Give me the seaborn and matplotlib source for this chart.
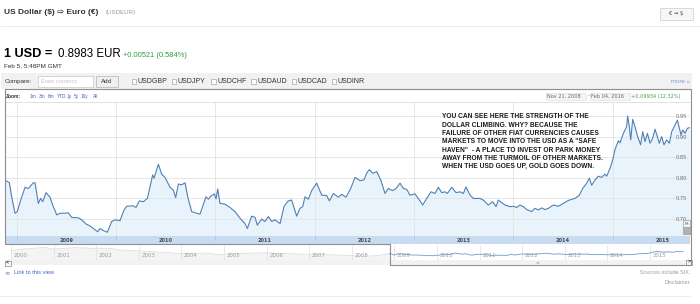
import matplotlib
matplotlib.use("Agg")
import matplotlib.pyplot as plt
import seaborn as sns
import numpy as np
import pandas as pd
from matplotlib.patches import Rectangle
from matplotlib.lines import Line2D
from matplotlib import font_manager

# ---------------- data ----------------
years_2009_2011 = [2008.879, 2008.926, 2008.949, 2008.983, 2009.006, 2009.040, 2009.084, 2009.117, 2009.167, 2009.184,
                   2009.218, 2009.241, 2009.262, 2009.295, 2009.335, 2009.362, 2009.403, 2009.436, 2009.486, 2009.520,
                   2009.554, 2009.621, 2009.654, 2009.698, 2009.738, 2009.772, 2009.815, 2009.839, 2009.872, 2009.913,
                   2009.956, 2009.990, 2010.040, 2010.081, 2010.107, 2010.175, 2010.201, 2010.235, 2010.275, 2010.316,
                   2010.369, 2010.383, 2010.426, 2010.460, 2010.493, 2010.544, 2010.577, 2010.601, 2010.628, 2010.661,
                   2010.695, 2010.722, 2010.762, 2010.812, 2010.846, 2010.873, 2010.906, 2010.930, 2010.957, 2010.990,
                   2011.007, 2011.024, 2011.047, 2011.098, 2011.148]
rates_2009_2011 = [0.795, 0.788, 0.754, 0.714, 0.718, 0.746, 0.777, 0.774, 0.788, 0.788,
                   0.738, 0.750, 0.742, 0.764, 0.753, 0.734, 0.710, 0.714, 0.714, 0.715,
                   0.704, 0.703, 0.698, 0.688, 0.683, 0.677, 0.669, 0.677, 0.672, 0.668,
                   0.694, 0.698, 0.696, 0.722, 0.731, 0.732, 0.728, 0.744, 0.742, 0.750,
                   0.807, 0.799, 0.833, 0.809, 0.801, 0.777, 0.770, 0.752, 0.785, 0.783,
                   0.788, 0.754, 0.718, 0.714, 0.712, 0.731, 0.754, 0.748, 0.756, 0.761,
                   0.749, 0.773, 0.738, 0.736, 0.728]
years_2011_2013 = [2011.198, 2011.249, 2011.299, 2011.323, 2011.366, 2011.400, 2011.423, 2011.467, 2011.500, 2011.534,
                   2011.568, 2011.601, 2011.652, 2011.692, 2011.735, 2011.769, 2011.819, 2011.853, 2011.880, 2011.903,
                   2011.937, 2011.970, 2012.021, 2012.071, 2012.121, 2012.148, 2012.189, 2012.239, 2012.273, 2012.316,
                   2012.363, 2012.407, 2012.457, 2012.497, 2012.524, 2012.551, 2012.585, 2012.625, 2012.665, 2012.709,
                   2012.742, 2012.786, 2012.820, 2012.860, 2012.894, 2012.927, 2012.961, 2013.011, 2013.055, 2013.088,
                   2013.129, 2013.172, 2013.212, 2013.246, 2013.280, 2013.313, 2013.337, 2013.380, 2013.424]
rates_2011_2013 = [0.718, 0.702, 0.689, 0.677, 0.707, 0.704, 0.685, 0.700, 0.694, 0.706,
                   0.694, 0.698, 0.689, 0.731, 0.744, 0.746, 0.707, 0.726, 0.730, 0.754,
                   0.748, 0.769, 0.787, 0.758, 0.757, 0.744, 0.762, 0.753, 0.760, 0.753,
                   0.774, 0.801, 0.793, 0.795, 0.811, 0.820, 0.811, 0.815, 0.795, 0.762,
                   0.774, 0.769, 0.774, 0.787, 0.774, 0.772, 0.758, 0.761, 0.746, 0.734,
                   0.750, 0.766, 0.762, 0.777, 0.764, 0.766, 0.762, 0.777, 0.764]
years_2013_2015 = [2013.464, 2013.498, 2013.524, 2013.565, 2013.598, 2013.665, 2013.699, 2013.749, 2013.793, 2013.827,
                   2013.850, 2013.884, 2013.917, 2013.968, 2014.001, 2014.035, 2014.068, 2014.102, 2014.135, 2014.186,
                   2014.219, 2014.253, 2014.286, 2014.320, 2014.354, 2014.404, 2014.454, 2014.505, 2014.545, 2014.589,
                   2014.622, 2014.666, 2014.699, 2014.740, 2014.766, 2014.790, 2014.824, 2014.857, 2014.891, 2014.924,
                   2014.941, 2014.975, 2015.001, 2015.025, 2015.059, 2015.075, 2015.109, 2015.142, 2015.152, 2015.169,
                   2015.183, 2015.203, 2015.226, 2015.253, 2015.283, 2015.304, 2015.327, 2015.351, 2015.378, 2015.404,
                   2015.428, 2015.451, 2015.471, 2015.495, 2015.518, 2015.545, 2015.572, 2015.596, 2015.629, 2015.653,
                   2015.673, 2015.690, 2015.706, 2015.730, 2015.753, 2015.780]
rates_2013_2015 = [0.766, 0.762, 0.778, 0.758, 0.750, 0.750, 0.746, 0.734, 0.742, 0.730,
                   0.746, 0.740, 0.734, 0.730, 0.731, 0.728, 0.734, 0.730, 0.723, 0.718,
                   0.726, 0.722, 0.727, 0.723, 0.726, 0.734, 0.731, 0.738, 0.744, 0.748,
                   0.750, 0.758, 0.774, 0.787, 0.799, 0.782, 0.795, 0.804, 0.801, 0.809,
                   0.804, 0.823, 0.843, 0.869, 0.890, 0.885, 0.908, 0.924, 0.950, 0.924,
                   0.892, 0.942, 0.924, 0.900, 0.880, 0.912, 0.888, 0.908, 0.884, 0.896,
                   0.918, 0.900, 0.884, 0.900, 0.880, 0.892, 0.884, 0.912, 0.928, 0.940,
                   0.920, 0.904, 0.916, 0.908, 0.920, 0.922]

# navigator history (faint, before the selected range)
hist_years = [2000.0, 2000.4, 2000.8, 2001.0, 2001.5, 2001.9, 2002.3, 2002.6, 2002.9, 2003.3, 2003.6, 2003.9,
              2004.2, 2004.6, 2004.9, 2005.4, 2005.9, 2006.3, 2006.9, 2007.4, 2007.9, 2008.3, 2008.6, 2008.879]
hist_rates = [0.99, 1.10, 1.17, 1.07, 1.16, 1.12, 1.12, 1.01, 0.97, 0.92, 0.87, 0.81,
              0.82, 0.82, 0.74, 0.80, 0.85, 0.81, 0.76, 0.74, 0.68, 0.64, 0.68, 0.795]

ytick_values = [0.70, 0.75, 0.80, 0.85, 0.90, 0.95]
ytick_labels = ["0.70", "0.75", "0.80", "0.85", "0.90", "0.95"]
chart_years = [2009, 2010, 2011, 2012, 2013, 2014, 2015]
nav_years = list(range(2000, 2016))
compare_codes = ["USDGBP", "USDJPY", "USDCHF", "USDAUD", "USDCAD", "USDINR"]
zoom_links = ["1m", "3m", "6m", "YTD", "1y", "5y", "10y", "All"]
note_lines = ["YOU CAN SEE HERE THE STRENGTH OF THE",
              "DOLLAR CLIMBING. WHY? BECAUSE THE",
              "FAILURE OF OTHER FIAT CURRENCIES CAUSES",
              "MARKETS TO MOVE INTO THE USD AS A \"SAFE",
              "HAVEN\"  - A PLACE TO INVEST OR PARK MONEY",
              "AWAY FROM THE TURMOIL OF OTHER MARKETS.",
              "WHEN THE USD GOES UP, GOLD GOES DOWN."]

df = pd.DataFrame({"year": years_2009_2011 + years_2011_2013 + years_2013_2015,
                   "rate": rates_2009_2011 + rates_2011_2013 + rates_2013_2015})
hist = pd.DataFrame({"year": hist_years, "rate": hist_rates})

# ---------------- style ----------------
sns.set_style("white")
plt.rcParams['font.family'] = ['Liberation Sans', 'DejaVu Sans']

W, H = 700, 304
fig = plt.figure(figsize=(W / 100, H / 100), dpi=100)
fig.patch.set_facecolor("white")

def fx(x):
    return x / W

def fy(y):
    return 1 - y / H

def ftext(x, y, s, **kw):
    kw.setdefault("va", "center")
    return fig.text(fx(x), fy(y), s, **kw)

def frect(x0, y0, x1, y1, **kw):
    r = Rectangle((fx(x0), fy(y1)), fx(x1) - fx(x0), fy(y0) - fy(y1),
                  transform=fig.transFigure, **kw)
    fig.add_artist(r)
    return r

def fline(xs, ys, **kw):
    fig.add_artist(Line2D([fx(v) for v in xs], [fy(v) for v in ys],
                          transform=fig.transFigure, **kw))

LINE = "#4f80b5"
FILL = "#e8f3fc"
GRID = "#e3e3e3"
FRAME = "#8f8f8f"
LINK = "#3f63c6"

# ---------------- header ----------------
ftext(4, 12.5, "US Dollar ($) \u21e8 Euro (\u20ac)", fontsize=6, fontweight="bold", color="#333333")
ftext(106, 12.5, "(USDEUR)", fontsize=4.4, color="#9a9a9a")
frect(660, 7.5, 693, 20, facecolor="#f6f6f6", edgecolor="#d4d4d4", lw=0.6)
ftext(676.5, 14, "\u20ac \u21d2 $", fontsize=3.8, ha="center", color="#444444", family=["DejaVu Sans"])
fline([0, 700], [26, 26], color="#e8e8e8", lw=0.6)

ftext(3.5, 57, "1 USD =", fontsize=9.2, fontweight="bold", color="#000000", va="baseline")
ftext(58, 57, "0.8983 EUR", fontsize=8.3, color="#000000", va="baseline")
ftext(123, 57, "+0.00521 (0.584%)", fontsize=5.4, color="#2e9c3f", va="baseline")
ftext(4, 65.5, "Feb 5, 5:48PM GMT", fontsize=4.6, color="#333333")

# compare bar
frect(1, 72.5, 692, 89, facecolor="#f1f1f1", edgecolor="none")
ftext(5, 81.5, "Compare:", fontsize=4.5, color="#333333")
frect(38, 76, 93, 87, facecolor="white", edgecolor="#c8c8c8", lw=0.5)
ftext(41, 81.5, "Enter currency", fontsize=4.0, color="#c4c4c4")
frect(96, 76, 118, 87, facecolor="#efefef", edgecolor="#b4b4b4", lw=0.5)
ftext(107, 81.5, "Add", fontsize=4.5, ha="center", color="#333333")
box_x = [131.5, 171.5, 211, 251, 291.5, 331.5]
for bx, code in zip(box_x, compare_codes):
    frect(bx, 79.3, bx + 4.5, 83.8, facecolor="#fafafa", edgecolor="#a8a8a8", lw=0.5)
    ftext(bx + 6, 81.5, code, fontsize=5.0, color="#333333")
ftext(690, 81.5, "more \u00bb", fontsize=4.4, color="#7c9ad9", ha="right")

# zoom row
ftext(6, 96.3, "Zoom:", fontsize=3.5, fontweight="bold", color="#333333")
zoom_x = [30, 39, 48, 57, 67, 74, 81, 93]
for zx, lab in zip(zoom_x, zoom_links):
    ftext(zx, 96.3, lab, fontsize=3.4, color=LINK)
range_font = dict(fontsize=3.6, family=["DejaVu Sans"])
frect(545.5, 92.5, 586, 99.8, facecolor="#f5f5f5", edgecolor="#e2e2e2", lw=0.5)
ftext(547, 96.2, "Nov 21, 2008", color="#666666", **range_font)
ftext(587.5, 96.2, "-", color="#666666", **range_font)
frect(590, 92.5, 629.5, 99.8, facecolor="#f5f5f5", edgecolor="#e2e2e2", lw=0.5)
ftext(591, 96.2, "Feb 04, 2016", color="#666666", **range_font)
ftext(631, 96.2, "+0.09934 (12.32%)", color="#3aa24a", **range_font)

# ---------------- main chart ----------------
x_left, x_right = 4.7, 690
ax = fig.add_axes([fx(x_left), fy(236), fx(x_right) - fx(x_left), (236 - 102) / H])
ax.set_xlim(2008.879, 2015.780)
ax.set_ylim(0.6588, 0.984)
ax.fill_between(df["year"], df["rate"], 0.6588, color=FILL, lw=0, zorder=1)
sns.lineplot(data=df, x="year", y="rate", ax=ax, color=LINE, lw=0.8, zorder=3)
ax.set_xticks(chart_years)
ax.set_yticks(ytick_values)
ax.set_yticklabels(ytick_labels)
ax.grid(True, color=GRID, lw=0.6)
ax.set_axisbelow("line")
ax.set_xlabel("")
ax.set_ylabel("")
ax.tick_params(axis="x", length=0, labelbottom=False)
ax.yaxis.tick_right()
ax.tick_params(axis="y", length=0, pad=-2.0, labelsize=3.6, labelcolor="#6a6a6a")
for lbl in ax.get_yticklabels():
    lbl.set_ha("right")
    lbl.set_family("DejaVu Sans")
for side in ["left", "right", "bottom"]:
    ax.spines[side].set_visible(False)
ax.spines["top"].set_color("#dcdcdc")
ax.spines["top"].set_linewidth(0.6)

# annotation note
names = {f.name for f in font_manager.fontManager.ttflist}
if "Liberation Sans Narrow" in names:
    note_font = dict(family=["Liberation Sans Narrow", "DejaVu Sans"], fontsize=5.9)
else:
    note_font = dict(family=["Liberation Sans", "DejaVu Sans"], fontsize=4.8)
for i, line in enumerate(note_lines):
    ftext(442, 116.8 + i * 8.33, line, fontweight="bold", color="#1a1a1a", **note_font)

# small "M" handle at right
frect(682.5, 226.5, 689.5, 234, facecolor="#b2b2b2", edgecolor="#9a9a9a", lw=0.5)
frect(682.5, 220.5, 689.5, 227, facecolor="#f4f4f4", edgecolor="#9a9a9a", lw=0.5)
ftext(686, 223.8, "M", fontsize=3.0, ha="center", color="#555555", family=["DejaVu Sans"])

# year band
axb = fig.add_axes([fx(x_left), fy(244), fx(x_right) - fx(x_left), 8 / H])
axb.set_xlim(ax.get_xlim())
axb.set_ylim(0, 1)
axb.set_facecolor("#c7dbf1")
axb.set_xticks([])
axb.set_yticks([])
for s in axb.spines.values():
    s.set_visible(False)
axb.vlines(chart_years, 0.55, 1.0, color="#a8c2df", lw=0.6)
for yr in chart_years:
    axb.text(yr + 0.5, 0.45, str(yr), ha="center", va="center", fontsize=3.6,
             fontweight="bold", color="#4a4a4a", family="DejaVu Sans")

# ---------------- navigator ----------------
axn = fig.add_axes([fx(10), fy(260), fx(692) - fx(10), (260 - 245) / H])
axn.set_xlim(1999.977, 2015.986)
axn.set_ylim(0.41, 1.32)
axn.set_xticks([])
axn.set_yticks([])
for s in axn.spines.values():
    s.set_visible(False)
axn.vlines(nav_years, 0.41, 1.32, color="#e4e4e4", lw=0.6)
axn.fill_between(hist["year"], hist["rate"], 0.41, color="#f4f4f4", lw=0)
sns.lineplot(data=hist, x="year", y="rate", ax=axn, color="#dedede", lw=0.6)
sns.lineplot(data=df, x="year", y="rate", ax=axn, color="#6f9bc9", lw=0.6)
axn.set_xlabel("")
axn.set_ylabel("")
for yr in nav_years:
    axn.text(yr + 0.06, 0.30, str(yr), transform=axn.get_xaxis_transform(), ha="left", va="center",
             fontsize=3.9, color="#9a9a9a", family="DejaVu Sans", clip_on=True)

# scroll row
frect(4.5, 260, 692, 265, facecolor="#f2f2f2", edgecolor="none")
frect(4.5, 260.5, 10.5, 266, facecolor="#f7f7f7", edgecolor="#8a8a8a", lw=0.5)
ftext(7.5, 263.2, "<", fontsize=3.6, ha="center", color="#333333", fontweight="bold")
frect(686, 259.5, 692, 265, facecolor="#f7f7f7", edgecolor="#8a8a8a", lw=0.5)
ftext(689, 262.2, ">", fontsize=3.6, ha="center", color="#333333", fontweight="bold")
ftext(537, 262.5, "\u2261", fontsize=3.2, ha="center", color="#b0b0b0", family=["DejaVu Sans"])

# frame
fline([4.5, 691], [89, 89], color=FRAME, lw=0.8)
fline([4.5, 4.5], [89, 244], color=FRAME, lw=0.8)
fline([4.5, 390], [244, 244], color=FRAME, lw=0.8)
fline([390, 390], [244, 265], color=FRAME, lw=0.8)
fline([390, 691], [265, 265], color=FRAME, lw=0.8)
fline([691, 691], [89, 265], color=FRAME, lw=0.8)

# footer
ftext(4, 272.5, "\u221e", fontsize=4.6, color="#6a7fb8", family=["DejaVu Sans"])
ftext(13.5, 272.5, "Link to this view", fontsize=4.1, color=LINK)
ftext(690, 272.5, "Sources include SIX.", fontsize=3.9, color="#9a9a9a", ha="right")
ftext(690, 282.5, "Disclaimer", fontsize=3.9, color="#9a9a9a", ha="right")
fline([0, 690], [296, 296], color="#e8e8e8", lw=0.6)

fig.savefig("out.png", dpi=100, facecolor="white")
